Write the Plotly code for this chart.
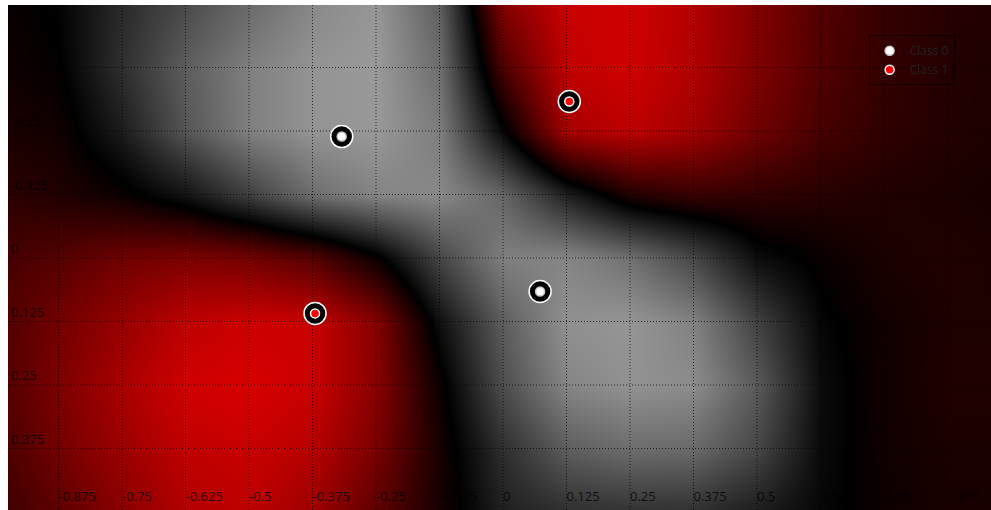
import plotly.graph_objects as go

# ---- data ----
grid_x = [-1.0, -0.875, -0.75, -0.625, -0.5, -0.375, -0.25, -0.125, 0.0,
          0.125, 0.25, 0.375, 0.5, 0.625, 0.75, 0.875, 1.0]
grid_y = [-0.5, -0.375, -0.25, -0.125, 0.0, 0.125, 0.25, 0.375, 0.5]

# decision values (negative = class 0 / grey, positive = class 1 / red)
decision_values = [
    [0.05, -0.02, -0.27, -0.48, -0.68, -0.88, -0.97, -0.60, 0.60, 0.90, 0.93, 0.80, 0.58, 0.37, 0.24, 0.17, 0.14],
    [0.08, 0.01, -0.30, -0.60, -0.82, -0.95, -0.99, -0.70, 0.35, 0.87, 0.93, 0.79, 0.57, 0.36, 0.23, 0.16, 0.12],
    [0.12, 0.08, -0.18, -0.55, -0.82, -0.95, -0.98, -0.80, -0.03, 0.75, 0.85, 0.72, 0.50, 0.32, 0.21, 0.15, 0.12],
    [0.20, 0.15, 0.05, -0.12, -0.40, -0.70, -0.85, -0.88, -0.65, -0.20, 0.15, 0.25, 0.22, 0.17, 0.14, 0.12, 0.10],
    [0.30, 0.38, 0.50, 0.56, 0.52, 0.38, 0.05, -0.45, -0.82, -0.86, -0.72, -0.45, -0.08, 0.04, 0.12, 0.14, 0.12],
    [0.33, 0.52, 0.68, 0.85, 0.92, 0.90, 0.60, -0.10, -0.60, -0.93, -0.96, -0.83, -0.42, -0.03, 0.08, 0.13, 0.13],
    [0.34, 0.56, 0.76, 0.93, 0.97, 0.90, 0.62, 0.05, -0.50, -0.86, -0.94, -0.90, -0.58, -0.07, 0.08, 0.14, 0.14],
    [0.30, 0.52, 0.70, 0.86, 0.90, 0.82, 0.55, 0.10, -0.30, -0.60, -0.70, -0.68, -0.45, -0.06, 0.07, 0.12, 0.12],
    [0.25, 0.42, 0.62, 0.80, 0.85, 0.70, 0.42, 0.10, -0.20, -0.30, -0.32, -0.30, -0.18, -0.04, 0.06, 0.11, 0.11],
]

class0_x = [-0.3175, 0.073]
class0_y = [-0.239, 0.066]
class1_x = [0.1305, -0.370]
class1_y = [-0.308, 0.109]

x_tickvals = [-0.875, -0.75, -0.625, -0.5, -0.375, -0.25, -0.125, 0,
              0.125, 0.25, 0.375, 0.5, 0.625, 0.75, 0.875]
x_ticktext = ["-0.875", "-0.75", "-0.625", "-0.5", "-0.375", "-0.25", "-0.125", "0",
              "0.125", "0.25", "0.375", "0.5", "0.625", "0.75", "0.875"]
y_tickvals = [-0.375, -0.25, -0.125, 0, 0.125, 0.25, 0.375]
y_ticktext = ["-0.375", "-0.25", "-0.125", "0", "0.125", "0.25", "0.375"]

x_range = [-0.9744, 0.9606]
y_range = [0.496, -0.498]

fig = go.Figure()

fig.add_trace(go.Heatmap(
    x=grid_x, y=grid_y, z=decision_values,
    zmin=-1, zmax=1, zsmooth="best", showscale=False,
    colorscale=[[0, "rgb(155,155,155)"], [0.5, "rgb(0,0,0)"], [1, "rgb(222,0,0)"]],
    hoverinfo="skip",
))

# dotted grid drawn over the heatmap (at the tick positions)
gx, gy = [], []
for v in x_tickvals:
    gx += [v, v, None]
    gy += [y_range[0], y_range[1], None]
for v in y_tickvals:
    gx += [x_range[0], x_range[1], None]
    gy += [v, v, None]
fig.add_trace(go.Scatter(
    x=gx, y=gy, mode="lines", showlegend=False, hoverinfo="skip",
    line=dict(color="rgba(0,0,0,0.7)", width=1, dash="1px,2px"),
))

# outer rings
for xs, ys in ((class0_x, class0_y), (class1_x, class1_y)):
    fig.add_trace(go.Scatter(
        x=xs, y=ys, mode="markers", showlegend=False, hoverinfo="skip",
        marker=dict(size=22, color="black", line=dict(color="white", width=1.5)),
    ))

fig.add_trace(go.Scatter(
    x=class0_x, y=class0_y, mode="markers", name="Class 0",
    marker=dict(size=9, color="white", line=dict(color="rgb(200,200,200)", width=1.5)),
))
fig.add_trace(go.Scatter(
    x=class1_x, y=class1_y, mode="markers", name="Class 1",
    marker=dict(size=9, color="rgb(255,0,0)", line=dict(color="white", width=1.5)),
))

axis_common = dict(
    showgrid=False, zeroline=False, showline=False, ticks="",
    tickfont=dict(family="Open Sans, sans-serif", size=13, color="rgba(0,0,0,0.75)"),
)

fig.update_layout(
    width=991, height=510,
    margin=dict(l=8, r=0, t=5, b=0),
    paper_bgcolor="white", plot_bgcolor="black",
    xaxis=dict(range=x_range, tickvals=x_tickvals, ticktext=x_ticktext,
               ticklabelposition="inside right", **axis_common),
    yaxis=dict(range=y_range, tickvals=y_tickvals, ticktext=y_ticktext,
               ticklabelposition="inside top", **axis_common),
    legend=dict(x=0.963, y=0.94, xanchor="right", yanchor="top", itemwidth=30,
                bgcolor="rgba(0,0,0,0)", bordercolor="rgba(0,0,0,0.6)", borderwidth=1,
                font=dict(family="Open Sans, sans-serif", size=12, color="#222")),
)

fig.write_html(
    "out.html",
    config={"displayModeBar": False},
    post_script="document.body.style.margin='0';document.body.style.overflow='hidden';",
)
